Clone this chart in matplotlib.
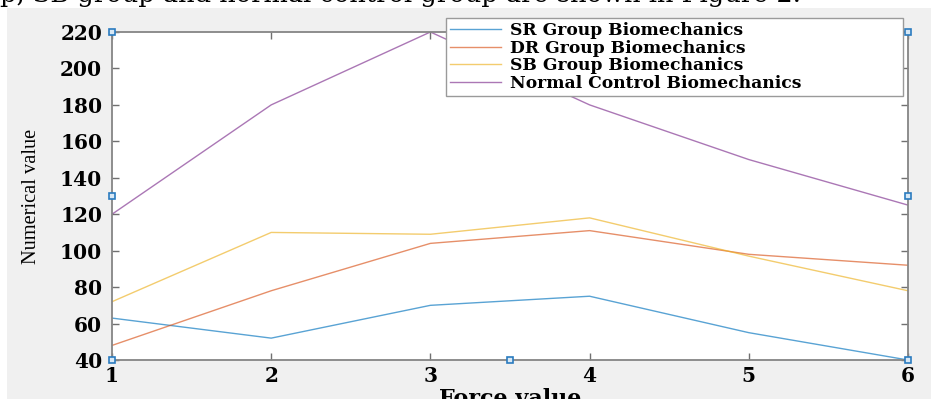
import matplotlib
matplotlib.use("Agg")
import matplotlib.pyplot as plt
from matplotlib.patches import Rectangle

# force levels and the four measured groups
force = [1, 2, 3, 4, 5, 6]
sr_group = [63, 52, 70, 75, 55, 40]
dr_group = [48, 78, 104, 111, 98, 92]
sb_group = [72, 110, 109, 118, 97, 78]
normal_control = [120, 180, 220, 180, 150, 125]

labels = ["SR Group Biomechanics", "DR Group Biomechanics",
          "SB Group Biomechanics", "Normal Control Biomechanics"]
colors = ["#0072BD", "#D95319", "#EDB120", "#7E2F8E"]
yticks = [40, 60, 80, 100, 120, 140, 160, 180, 200, 220]

W, H = 931, 399
fig = plt.figure(figsize=(W / 100, H / 100), dpi=100, facecolor="white")

# caption line from the page above the figure
fig.text(0.0, 1 - 2 / H, "p, SB group and normal control group are shown in Figure 2.",
         family="DejaVu Serif", fontsize=18.5, ha="left", va="baseline",
         color="black", zorder=-2)
# grey figure window background
fig.patches.append(Rectangle((7 / W, 0), 1, 1 - 8 / H, transform=fig.transFigure,
                             facecolor="#f0f0f0", edgecolor="none", zorder=-1))

ax = fig.add_axes([112 / W, 1 - 360 / H, 796 / W, 328 / H])
ax.set_facecolor("white")

series = [sr_group, dr_group, sb_group, normal_control]
for vals, lab, col in zip(series, labels, colors):
    ax.plot(force, vals, color=col, lw=1.0, alpha=0.65, label=lab)

ax.set_xlim(1, 6)
ax.set_ylim(40, 220)
ax.set_xticks(force)
ax.set_yticks(yticks)

for sp in ax.spines.values():
    sp.set_color("#858585")
    sp.set_linewidth(1.3)
ax.tick_params(direction="in", length=5, width=1, color="#707070",
               top=True, right=True, labelsize=14.5)
ax.tick_params(axis="y", pad=7)
ax.tick_params(axis="x", pad=4)
for t in ax.get_xticklabels() + ax.get_yticklabels():
    t.set_family("DejaVu Serif")
    t.set_fontweight("bold")

ax.set_xlabel("Force value", family="DejaVu Serif", fontweight="bold", fontsize=16)
ax.xaxis.set_label_coords(0.5, -(388 - 360) / 328)
ax.xaxis.label.set_va("top")
ax.set_ylabel("Numerical value", family="Liberation Serif", fontsize=14.7)
ax.yaxis.set_label_coords((31 - 112) / 796, 0.5)
ax.yaxis.label.set_va("center")

# edit-mode selection handles around the axes
hx = [0, 0, 0, 0.5, 1, 1, 1]
hy = [1, 0.5, 0, 0, 0, 0.5, 1]
ax.plot(hx, hy, ls="none", marker="s", markersize=5, mfc="#d8e8f5",
        mec="#2a7bbf", mew=1.2, transform=ax.transAxes, clip_on=False, zorder=5)

leg = ax.legend(loc="lower left", bbox_to_anchor=(446 / W, 1 - 96 / H, 457 / W, 83 / H),
                bbox_transform=fig.transFigure, mode="expand", fancybox=False,
                framealpha=1, edgecolor="#9a9a9a", borderpad=0.22,
                borderaxespad=0, labelspacing=0.05, handlelength=3.0,
                handletextpad=0.5,
                prop={"family": "DejaVu Serif", "weight": "bold", "size": 12.3})
leg.get_frame().set_linewidth(1.0)
leg.set_zorder(10)

fig.savefig("out.png", dpi=100, facecolor="white")
